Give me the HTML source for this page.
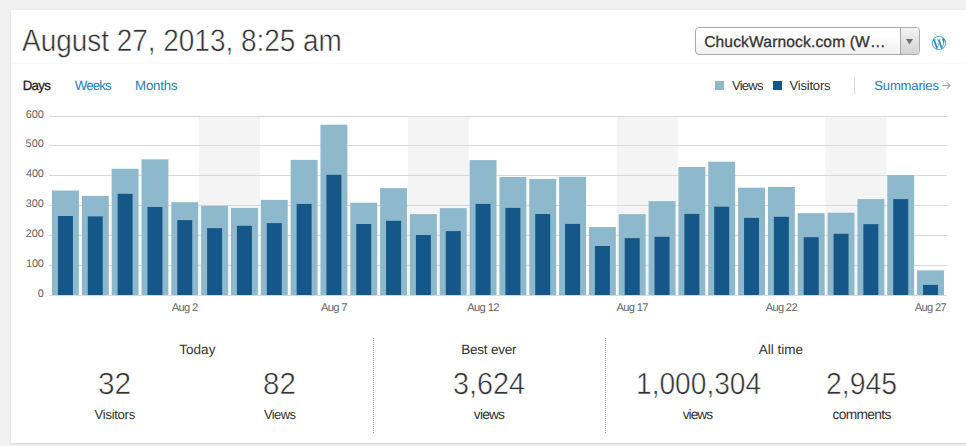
<!DOCTYPE html>
<html><head><meta charset="utf-8">
<style>
* { margin:0; padding:0; box-sizing:border-box; }
html, body { width:966px; height:446px; overflow:hidden; background:#f1f1f1; font-family:"Liberation Sans", sans-serif; color:#333; }
.card { position:absolute; left:11px; top:10px; width:970px; height:433px; background:#fff; box-shadow:0 1px 2px rgba(0,0,0,0.12); }
.abs { position:absolute; }
.t { position:absolute; white-space:nowrap; line-height:1; text-rendering:geometricPrecision; }
.sel { position:absolute; left:695px; top:27px; width:225px; height:28px; border:1px solid #ababab; border-radius:4px; background:linear-gradient(#fff 30%, #f0f0f0); }
.sel .arr { position:absolute; right:0; top:0; width:19px; height:26px; border-left:1px solid #a8a8a8; background:linear-gradient(#f3f3f3, #d3d3d3); border-radius:0 3px 3px 0; }
.yl { position:absolute; left:0; width:44px; text-align:right; font-size:10.5px; color:#555; line-height:1.15; }
.xl { position:absolute; top:300px; width:60px; text-align:center; font-size:10.5px; color:#555; line-height:1.15; }
.sq { position:absolute; width:9px; height:9px; }
.dot { position:absolute; top:338px; width:1px; height:95px; background:repeating-linear-gradient(#aaa 0 1px, transparent 1px 2px); }
</style></head><body>
<div class="card"></div>
<div class="abs" style="left:12px;top:63px;width:952px;height:1px;background:#fafafa"></div>
<div class="sel"><div class="arr"><svg width="19" height="26" style="position:absolute;left:0;top:0"><path d="M5 11 L12 11 L8.5 16.6 Z" fill="#707070"/></svg></div></div>
<svg class="abs" style="left:932.2px;top:35.8px" width="14" height="14" viewBox="0 0 24 24"><path fill="#2e8fc5" d="M21.469 6.825c.84 1.537 1.318 3.3 1.318 5.175 0 3.979-2.156 7.456-5.363 9.325l3.295-9.527c.615-1.54.82-2.771.82-3.864 0-.405-.026-.78-.07-1.11m-7.981.105c.647-.03 1.232-.105 1.232-.105.582-.075.514-.93-.067-.899 0 0-1.755.135-2.88.135-1.064 0-2.85-.15-2.85-.15-.585-.03-.661.855-.075.885 0 0 .54.061 1.125.09l1.68 4.605-2.37 7.08L5.354 6.9c.649-.03 1.234-.1 1.234-.1.585-.075.516-.93-.065-.896 0 0-1.746.138-2.874.138-.2 0-.438-.008-.69-.015C4.911 3.15 8.235 1.215 12 1.215c2.809 0 5.365 1.072 7.286 2.833-.046-.003-.091-.009-.141-.009-1.06 0-1.812.923-1.812 1.914 0 .89.513 1.643 1.06 2.531.411.72.89 1.643.89 2.977 0 .915-.354 1.994-.821 3.479l-1.075 3.585-3.9-11.61.001.014zM12 22.784c-1.059 0-2.081-.153-3.048-.437l3.237-9.406 3.315 9.087c.024.053.05.101.078.149-1.12.393-2.325.609-3.582.609M1.211 12c0-1.564.336-3.05.935-4.39L7.29 21.709C3.694 19.96 1.212 16.271 1.211 12M12 0C5.385 0 0 5.385 0 12s5.385 12 12 12 12-5.385 12-12S18.615 0 12 0"/></svg>
<div class="sq" style="left:715px;top:81px;background:#8eb9cd"></div>
<div class="sq" style="left:773px;top:81px;background:#16578a"></div>
<div class="abs" style="left:854px;top:77px;width:1px;height:17px;background:#ddd"></div>
<svg class="abs" style="left:0;top:0" width="966" height="100"><path d="M942 85.5 H950.3 M947 82.3 L950.3 85.5 L947 88.7" fill="none" stroke="#a8a8a8" stroke-width="1.1"/></svg>
<svg class="abs" style="left:0;top:0" width="966" height="446">
<rect x="199.05" y="117" width="61" height="178.0" fill="#f4f4f4"/>
<rect x="407.86" y="117" width="61" height="178.0" fill="#f4f4f4"/>
<rect x="616.67" y="117" width="61" height="178.0" fill="#f4f4f4"/>
<rect x="825.48" y="117" width="61" height="178.0" fill="#f4f4f4"/>
<rect x="49" y="295" width="898" height="1" fill="#d9d9d9"/>
<rect x="49" y="265" width="898" height="1" fill="#d9d9d9"/>
<rect x="49" y="235" width="898" height="1" fill="#d9d9d9"/>
<rect x="49" y="205" width="898" height="1" fill="#d9d9d9"/>
<rect x="49" y="175" width="898" height="1" fill="#d9d9d9"/>
<rect x="49" y="145" width="898" height="1" fill="#d9d9d9"/>
<rect x="49" y="116" width="898" height="1" fill="#d9d9d9"/>
<rect x="52.00" y="190.50" width="26.9" height="104.50" fill="#8eb9cd"/>
<rect x="57.95" y="216.00" width="15.0" height="79.00" fill="#16578a"/>
<rect x="81.83" y="195.90" width="26.9" height="99.10" fill="#8eb9cd"/>
<rect x="87.78" y="216.40" width="15.0" height="78.60" fill="#16578a"/>
<rect x="111.66" y="168.80" width="26.9" height="126.20" fill="#8eb9cd"/>
<rect x="117.61" y="193.80" width="15.0" height="101.20" fill="#16578a"/>
<rect x="141.49" y="159.30" width="26.9" height="135.70" fill="#8eb9cd"/>
<rect x="147.44" y="207.00" width="15.0" height="88.00" fill="#16578a"/>
<rect x="171.32" y="202.20" width="26.9" height="92.80" fill="#8eb9cd"/>
<rect x="177.27" y="220.10" width="15.0" height="74.90" fill="#16578a"/>
<rect x="201.15" y="205.80" width="26.9" height="89.20" fill="#8eb9cd"/>
<rect x="207.10" y="228.10" width="15.0" height="66.90" fill="#16578a"/>
<rect x="230.98" y="207.90" width="26.9" height="87.10" fill="#8eb9cd"/>
<rect x="236.93" y="225.80" width="15.0" height="69.20" fill="#16578a"/>
<rect x="260.81" y="199.90" width="26.9" height="95.10" fill="#8eb9cd"/>
<rect x="266.76" y="223.10" width="15.0" height="71.90" fill="#16578a"/>
<rect x="290.64" y="159.90" width="26.9" height="135.10" fill="#8eb9cd"/>
<rect x="296.59" y="203.90" width="15.0" height="91.10" fill="#16578a"/>
<rect x="320.47" y="124.70" width="26.9" height="170.30" fill="#8eb9cd"/>
<rect x="326.42" y="174.80" width="15.0" height="120.20" fill="#16578a"/>
<rect x="350.30" y="202.70" width="26.9" height="92.30" fill="#8eb9cd"/>
<rect x="356.25" y="224.00" width="15.0" height="71.00" fill="#16578a"/>
<rect x="380.13" y="188.10" width="26.9" height="106.90" fill="#8eb9cd"/>
<rect x="386.08" y="220.80" width="15.0" height="74.20" fill="#16578a"/>
<rect x="409.96" y="214.10" width="26.9" height="80.90" fill="#8eb9cd"/>
<rect x="415.91" y="235.00" width="15.0" height="60.00" fill="#16578a"/>
<rect x="439.79" y="208.10" width="26.9" height="86.90" fill="#8eb9cd"/>
<rect x="445.74" y="231.10" width="15.0" height="63.90" fill="#16578a"/>
<rect x="469.62" y="160.10" width="26.9" height="134.90" fill="#8eb9cd"/>
<rect x="475.57" y="203.90" width="15.0" height="91.10" fill="#16578a"/>
<rect x="499.45" y="177.00" width="26.9" height="118.00" fill="#8eb9cd"/>
<rect x="505.40" y="207.90" width="15.0" height="87.10" fill="#16578a"/>
<rect x="529.28" y="178.90" width="26.9" height="116.10" fill="#8eb9cd"/>
<rect x="535.23" y="214.00" width="15.0" height="81.00" fill="#16578a"/>
<rect x="559.11" y="176.80" width="26.9" height="118.20" fill="#8eb9cd"/>
<rect x="565.06" y="223.90" width="15.0" height="71.10" fill="#16578a"/>
<rect x="588.94" y="227.10" width="26.9" height="67.90" fill="#8eb9cd"/>
<rect x="594.89" y="246.00" width="15.0" height="49.00" fill="#16578a"/>
<rect x="618.77" y="214.10" width="26.9" height="80.90" fill="#8eb9cd"/>
<rect x="624.72" y="238.10" width="15.0" height="56.90" fill="#16578a"/>
<rect x="648.60" y="201.10" width="26.9" height="93.90" fill="#8eb9cd"/>
<rect x="654.55" y="236.80" width="15.0" height="58.20" fill="#16578a"/>
<rect x="678.43" y="167.00" width="26.9" height="128.00" fill="#8eb9cd"/>
<rect x="684.38" y="213.90" width="15.0" height="81.10" fill="#16578a"/>
<rect x="708.26" y="161.70" width="26.9" height="133.30" fill="#8eb9cd"/>
<rect x="714.21" y="206.70" width="15.0" height="88.30" fill="#16578a"/>
<rect x="738.09" y="187.70" width="26.9" height="107.30" fill="#8eb9cd"/>
<rect x="744.04" y="217.90" width="15.0" height="77.10" fill="#16578a"/>
<rect x="767.92" y="187.00" width="26.9" height="108.00" fill="#8eb9cd"/>
<rect x="773.87" y="216.80" width="15.0" height="78.20" fill="#16578a"/>
<rect x="797.75" y="213.20" width="26.9" height="81.80" fill="#8eb9cd"/>
<rect x="803.70" y="237.20" width="15.0" height="57.80" fill="#16578a"/>
<rect x="827.58" y="212.70" width="26.9" height="82.30" fill="#8eb9cd"/>
<rect x="833.53" y="233.80" width="15.0" height="61.20" fill="#16578a"/>
<rect x="857.41" y="199.10" width="26.9" height="95.90" fill="#8eb9cd"/>
<rect x="863.36" y="224.20" width="15.0" height="70.80" fill="#16578a"/>
<rect x="887.24" y="175.10" width="26.9" height="119.90" fill="#8eb9cd"/>
<rect x="893.19" y="199.10" width="15.0" height="95.90" fill="#16578a"/>
<rect x="917.07" y="270.40" width="26.9" height="24.60" fill="#8eb9cd"/>
<rect x="923.02" y="284.90" width="15.0" height="10.10" fill="#16578a"/>
</svg>
<div class="dot" style="left:373px"></div>
<div class="dot" style="left:605px"></div>
<div class="t" style="left:21.72px;top:25.02px;font-size:30.98px;font-weight:normal;-webkit-text-stroke:0.5px #fff;color:#333;transform:scaleX(0.9019);transform-origin:0 0">August 27, 2013, 8:25 am</div>
<div class="t" style="left:22.69px;top:78.99px;font-size:13.30px;letter-spacing:-0.680px;font-weight:normal;-webkit-text-stroke:0.3px #222;color:#222">Days</div>
<div class="t" style="left:74.74px;top:79.00px;font-size:13.30px;letter-spacing:-0.892px;font-weight:normal;color:#2480c0">Weeks</div>
<div class="t" style="left:135.06px;top:78.95px;font-size:13.30px;letter-spacing:-0.218px;font-weight:normal;color:#2480c0">Months</div>
<div class="t" style="left:704.16px;top:34.96px;font-size:15.60px;letter-spacing:0.138px;font-weight:normal;-webkit-text-stroke:0.3px #333;color:#333">ChuckWarnock.com (W…</div>
<div class="t" style="left:731.89px;top:79.03px;font-size:13.06px;letter-spacing:-0.708px;font-weight:normal;color:#333">Views</div>
<div class="t" style="left:789.42px;top:79.03px;font-size:13.06px;letter-spacing:-0.197px;font-weight:normal;color:#333">Visitors</div>
<div class="t" style="left:874.28px;top:79.01px;font-size:13.06px;letter-spacing:-0.156px;font-weight:normal;color:#2480c0">Summaries</div>
<div class="t" style="left:179.17px;top:343.03px;font-size:13.53px;letter-spacing:0.050px;font-weight:normal;color:#333">Today</div>
<div class="t" style="left:97.63px;top:368.96px;font-size:30.56px;font-weight:normal;-webkit-text-stroke:0.5px #fff;color:#333;transform:scaleX(0.9780);transform-origin:0 0">32</div>
<div class="t" style="left:94.59px;top:407.95px;font-size:13.10px;letter-spacing:-0.291px;font-weight:normal;color:#333">Visitors</div>
<div class="t" style="left:263.19px;top:369.02px;font-size:30.56px;font-weight:normal;-webkit-text-stroke:0.5px #fff;color:#333;transform:scaleX(0.9645);transform-origin:0 0">82</div>
<div class="t" style="left:263.94px;top:407.99px;font-size:13.10px;letter-spacing:-0.666px;font-weight:normal;color:#333">Views</div>
<div class="t" style="left:461.30px;top:343.04px;font-size:13.53px;letter-spacing:-0.242px;font-weight:normal;color:#333">Best ever</div>
<div class="t" style="left:452.97px;top:368.94px;font-size:30.56px;font-weight:normal;-webkit-text-stroke:0.5px #fff;color:#333;transform:scaleX(0.9419);transform-origin:0 0">3,624</div>
<div class="t" style="left:473.86px;top:408.03px;font-size:13.74px;letter-spacing:-0.812px;font-weight:normal;color:#333">views</div>
<div class="t" style="left:758.72px;top:343.02px;font-size:13.53px;letter-spacing:-0.004px;font-weight:normal;color:#333">All time</div>
<div class="t" style="left:635.82px;top:369.06px;font-size:30.56px;font-weight:normal;-webkit-text-stroke:0.5px #fff;color:#333;transform:scaleX(0.9208);transform-origin:0 0">1,000,304</div>
<div class="t" style="left:826.03px;top:369.04px;font-size:30.56px;font-weight:normal;-webkit-text-stroke:0.5px #fff;color:#333;transform:scaleX(0.9292);transform-origin:0 0">2,945</div>
<div class="t" style="left:682.77px;top:408.01px;font-size:13.74px;letter-spacing:-1.009px;font-weight:normal;color:#333">views</div>
<div class="t" style="left:832.50px;top:407.95px;font-size:13.74px;letter-spacing:-0.652px;font-weight:normal;color:#333">comments</div>
<div class="t" style="left:37.72px;top:288.95px;font-size:10.94px;font-weight:normal;color:#666">0</div>
<div class="t" style="left:26.02px;top:259.01px;font-size:10.94px;letter-spacing:-0.154px;font-weight:normal;color:#666">100</div>
<div class="t" style="left:25.84px;top:228.94px;font-size:10.94px;letter-spacing:-0.086px;font-weight:normal;color:#666">200</div>
<div class="t" style="left:25.77px;top:198.98px;font-size:10.94px;letter-spacing:-0.057px;font-weight:normal;color:#666">300</div>
<div class="t" style="left:25.99px;top:168.98px;font-size:10.94px;letter-spacing:-0.172px;font-weight:normal;color:#666">400</div>
<div class="t" style="left:25.60px;top:138.94px;font-size:10.94px;letter-spacing:0.053px;font-weight:normal;color:#666">500</div>
<div class="t" style="left:25.84px;top:109.96px;font-size:10.94px;letter-spacing:-0.063px;font-weight:normal;color:#666">600</div>
<div class="t" style="left:171.80px;top:303.03px;font-size:11.15px;letter-spacing:-0.700px;font-weight:normal;color:#666">Aug 2</div>
<div class="t" style="left:320.88px;top:302.96px;font-size:11.15px;letter-spacing:-0.629px;font-weight:normal;color:#666">Aug 7</div>
<div class="t" style="left:467.15px;top:303.03px;font-size:11.15px;letter-spacing:-0.602px;font-weight:normal;color:#666">Aug 12</div>
<div class="t" style="left:616.38px;top:303.03px;font-size:11.15px;letter-spacing:-0.640px;font-weight:normal;color:#666">Aug 17</div>
<div class="t" style="left:765.63px;top:303.02px;font-size:11.15px;letter-spacing:-0.668px;font-weight:normal;color:#666">Aug 22</div>
<div class="t" style="left:914.78px;top:302.99px;font-size:11.15px;letter-spacing:-0.692px;font-weight:normal;color:#666">Aug 27</div>
</body></html>
